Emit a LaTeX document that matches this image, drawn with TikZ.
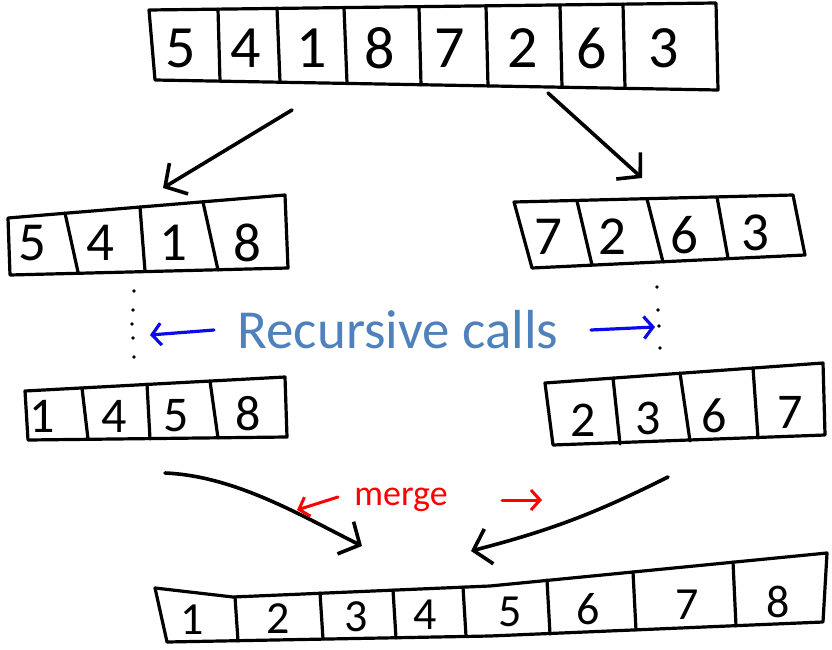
\documentclass[tikz,border=0pt]{standalone}
\usepackage{fontspec}
\setmainfont{Carlito}
\usetikzlibrary{arrows.meta}
\definecolor{calltext}{RGB}{79,129,189}
\definecolor{penblue}{RGB}{10,10,235}
\definecolor{penred}{RGB}{255,0,0}
\tikzset{
  arrbox/.style={line width=3.2pt, line join=round, line cap=round},
  divider/.style={line width=3.2pt, line cap=round},
  digA/.style={inner sep=0pt, font=\fontsize{60}{60}\selectfont},
  digB/.style={inner sep=0pt, font=\fontsize{55}{55}\selectfont},
  digC/.style={inner sep=0pt, font=\fontsize{50}{50}\selectfont},
  digD/.style={inner sep=0pt, font=\fontsize{46}{46}\selectfont},
  blackarrow/.style={line width=3.6pt, line cap=round, -{Straight Barb[length=16pt,width=36pt]}},
  bluearrow/.style={penblue, line width=3.2pt, line cap=round, -{Straight Barb[length=9pt,width=22pt]}},
  redarrow/.style={penred, line width=3pt, line cap=round, -{Straight Barb[length=9pt,width=20pt]}},
  dotmark/.style={fill=black, draw=none, circle, minimum size=3.8pt, inner sep=0pt}
}
\begin{document}
\begin{tikzpicture}[x=1pt,y=-1pt]
\useasboundingbox (0,0) rectangle (832,650);

% ---------- top array
\draw[arrbox] (149,10) -- (716,3) -- (718,90) -- (155,80) -- cycle;
\draw[divider] (218,9) -- (220,81);
\draw[divider] (277,8) -- (280,82);
\draw[divider] (344,8) -- (347,83);
\draw[divider] (419,7) -- (421,85);
\draw[divider] (486,6) -- (488,86);
\draw[divider] (560,5) -- (562,87);
\draw[divider] (623,4) -- (625,88);
\node[digA] (t1) at (181,48) {5};
\node[digA] (t2) at (246,48) {4};
\node[digA] (t3) at (312,48) {1};
\node[digA] (t4) at (380,48) {8};
\node[digA] (t5) at (450,48) {7};
\node[digA] (t6) at (523,48) {2};
\node[digA] (t7) at (592,48) {6};
\node[digA] (t8) at (664,48) {3};

% ---------- level 2 left
\draw[arrbox] (8,218) -- (285,195) -- (288,268) -- (10,275) -- cycle;
\draw[divider] (65,213) -- (78,272);
\draw[divider] (140,207) -- (145,271);
\draw[divider] (203,202) -- (218,270);
\node[digB] (l1) at (32,243) {5};
\node[digB] (l2) at (100,243) {4};
\node[digB] (l3) at (173,243) {1};
\node[digB] (l4) at (247,243) {8};

% ---------- level 2 right
\draw[arrbox] (514,202) -- (793,195) -- (805,255) -- (532,268) -- cycle;
\draw[divider] (577,201) -- (592,265);
\draw[divider] (647,199) -- (663,262);
\draw[divider] (717,197) -- (728,258);
\node[digB] (r1) at (548,237) {7};
\node[digB] (r2) at (612,237) {2};
\node[digB] (r3) at (684,235) {6};
\node[digB] (r4) at (755,233) {3};

% ---------- level 3 left
\draw[arrbox] (25,391) -- (285,377) -- (287,437) -- (28,440) -- cycle;
\draw[divider] (82,388) -- (88,439);
\draw[divider] (147,384) -- (150,439);
\draw[divider] (210,381) -- (218,438);
\node[digC] (ll1) at (42,416) {1};
\node[digC] (ll2) at (114,416) {4};
\node[digC] (ll3) at (176,416) {5};
\node[digC] (ll4) at (248,414) {8};

% ---------- level 3 right
\draw[arrbox] (545,383) -- (823,363) -- (825,435) -- (553,445) -- cycle;
\draw[divider] (613,378) -- (620,444);
\draw[divider] (680,373) -- (690,441);
\draw[divider] (753,368) -- (758,438);
\node[digC] (rr1) at (583,420) {2};
\node[digC] (rr2) at (648,418) {3};
\node[digC] (rr3) at (714,416) {6};
\node[digC] (rr4) at (790,412) {7};

% ---------- bottom array
\draw[arrbox] (155,588) -- (233,597) -- (490,586) -- (827,553) -- (823,622) -- (490,636) -- (167,642) -- cycle;
\draw[divider] (235,597) -- (238,641);
\draw[divider] (320,593) -- (323,639);
\draw[divider] (393,590) -- (396,638);
\draw[divider] (463,587) -- (466,636);
\draw[divider] (547,580) -- (550,634);
\draw[divider] (633,572) -- (636,630);
\draw[divider] (733,562) -- (736,626);
\node[digD] (b1) at (192,620) {1};
\node[digD] (b2) at (278,619) {2};
\node[digD] (b3) at (356,617) {3};
\node[digD] (b4) at (425,615) {4};
\node[digD] (b5) at (510,612) {5};
\node[digD] (b6) at (588,609) {6};
\node[digD] (b7) at (687,605) {7};
\node[digD] (b8) at (778,602) {8};

% ---------- dotted recursion markers
\node[dotmark] (dl1) at (134,291) {};
\node[dotmark] (dl2) at (133,310) {};
\node[dotmark] (dl3) at (132,324) {};
\node[dotmark] (dl4) at (133,338) {};
\node[dotmark] (dl5) at (134,357) {};
\node[dotmark] (dr1) at (657,287) {};
\node[dotmark] (dr2) at (658,310) {};
\node[dotmark] (dr3) at (659,326) {};
\node[dotmark] (dr4) at (660,348) {};

% ---------- labels
\node[anchor=base, inner sep=0pt, text=calltext, font=\fontsize{55}{55}\selectfont] (rc) at (398,348) {Recursive calls};
\node[anchor=base, inner sep=0pt, text=penred, font=\fontsize{36}{36}\selectfont] (mg) at (401,505) {merge};

% ---------- connector end points
\coordinate (a1s) at (292,110);
\coordinate (a1e) at (163,188);
\coordinate (a2s) at (548,93);
\coordinate (a2e) at (642,178);
\coordinate (m1s) at (165,473);
\coordinate (m1e) at (362,546);
\coordinate (m2s) at (668,477);
\coordinate (m2e) at (471,551);
\coordinate (bl1) at (214,330);
\coordinate (bl2) at (150,335);
\coordinate (br1) at (591,330);
\coordinate (br2) at (655,327);
\coordinate (rl1) at (338,497);
\coordinate (rl2) at (297,510);
\coordinate (rr1a) at (502,500);
\coordinate (rr2a) at (542,500);

% ---------- arrows
\draw[blackarrow] (a1s) -- (a1e);
\draw[blackarrow] (a2s) -- (a2e);
\draw[blackarrow] (m1s) .. controls (235,476) and (300,515) .. (m1e);
\draw[blackarrow] (m2s) to[bend left=6] (m2e);
\draw[bluearrow] (bl1) -- (bl2);
\draw[bluearrow] (br1) -- (br2);
\draw[redarrow] (rl1) -- (rl2);
\draw[redarrow] (rr1a) -- (rr2a);
\end{tikzpicture}
\end{document}
